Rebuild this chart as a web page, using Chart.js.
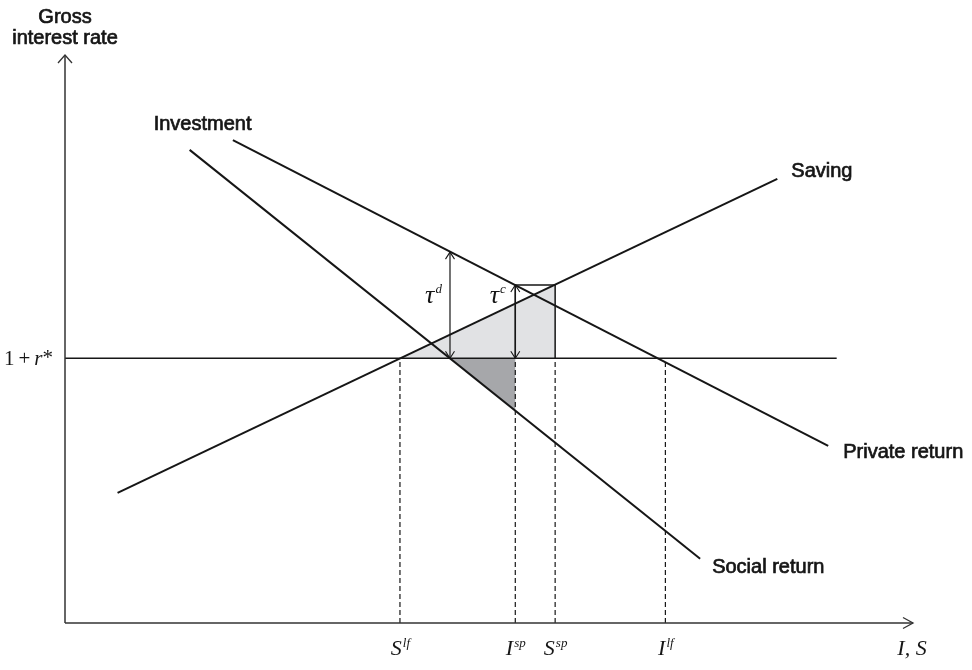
<!DOCTYPE html>
<html>
<head>
<meta charset="utf-8">
<script src="https://cdn.jsdelivr.net/npm/chart.js@4.4.1/dist/chart.umd.min.js"></script>
<style>
  html, body { margin: 0; padding: 0; background: #fff; }
</style>
</head>
<body>
<canvas id="diagram" width="972" height="670"></canvas>
<script>
// values: quantity axis 0-100, rate axis 0-100
const rateStar = 46.6;
const rateLineEnd = 91.0;
const savingLine = [{x: 6.2, y: 22.9}, {x: 84.0, y: 78.2}];
const socialLine = [{x: 14.7, y: 83.3}, {x: 74.9, y: 11.3}];
const privateLine = [{x: 19.8, y: 85.0}, {x: 90.0, y: 31.2}];
const qNames = ['S', 'I', 'S', 'I'];
const qSups = ['lf', 'sp', 'sp', 'lf'];
const qValues = [39.5, 53.1, 57.8, 70.8];
const tauD = {x: 45.4, top: 65.3};
const tauC = {x: 53.1, top: 59.5};
const darkBottom = 37.5;

const INK = '#161616';
const SANS = '20px "Liberation Sans", Arial, sans-serif';
const SERIF = '"Liberation Serif", "Times New Roman", serif';

function seg(points, extra) {
    return Object.assign({
        data: points,
        showLine: true,
        borderColor: INK,
        borderWidth: 2,
        pointRadius: 0,
        fill: false,
        clip: false,
        order: 1
    }, extra || {});
}

const datasets = [
    // shaded areas
    seg([{x: qValues[0], y: rateStar}, {x: qValues[2], y: tauC.top}, {x: qValues[2], y: rateStar}],
        {fill: 'shape', backgroundColor: '#e1e2e4', borderWidth: 0, order: 3}),
    seg([{x: tauD.x, y: rateStar}, {x: qValues[1], y: rateStar}, {x: qValues[1], y: darkBottom}],
        {fill: 'shape', backgroundColor: '#a6a7aa', borderWidth: 0, order: 3}),
    // axes
    seg([{x: 0, y: 0}, {x: 0, y: 100}], {borderColor: '#333', borderWidth: 1.5}),
    seg([{x: 0, y: 0}, {x: 100, y: 0}], {borderColor: '#333', borderWidth: 1.5}),
    // world interest rate
    seg([{x: 0, y: rateStar}, {x: rateLineEnd, y: rateStar}], {borderWidth: 1.5}),
    // box
    seg([{x: qValues[1], y: rateStar}, {x: qValues[1], y: tauC.top},
         {x: qValues[2], y: tauC.top}, {x: qValues[2], y: rateStar}], {borderWidth: 1.5}),
    // curves
    seg(savingLine),
    seg(socialLine),
    seg(privateLine),
    // tax wedges
    seg([{x: tauD.x, y: rateStar}, {x: tauD.x, y: tauD.top}], {borderWidth: 1.2}),
    seg([{x: tauC.x, y: rateStar}, {x: tauC.x, y: tauC.top}], {borderWidth: 1.2})
];

// dashed drop lines
qValues.forEach(v => {
    datasets.push(seg([{x: v, y: 0}, {x: v, y: rateStar}], {borderWidth: 1.2, borderDash: [5, 3], order: 2}));
});

function chevron(ctx, tx, ty, dx, dy, len, half, w) {
    const bx = tx - dx * len, by = ty - dy * len;
    const nx = -dy, ny = dx;
    ctx.beginPath();
    ctx.moveTo(bx + nx * half, by + ny * half);
    ctx.lineTo(tx, ty);
    ctx.lineTo(bx - nx * half, by - ny * half);
    ctx.lineWidth = w;
    ctx.stroke();
}

function supText(ctx, base, sup, cx, baseY, baseFont, supFont, rise) {
    ctx.font = baseFont;
    const wb = ctx.measureText(base).width;
    ctx.font = supFont;
    const ws = ctx.measureText(sup).width;
    const sx = cx - (wb + ws) / 2;
    ctx.textAlign = 'left';
    ctx.textBaseline = 'alphabetic';
    ctx.font = baseFont;
    ctx.fillText(base, sx, baseY);
    ctx.font = supFont;
    ctx.fillText(sup, sx + wb + 1, baseY - rise);
}

// sans labels are a touch heavier in the original
function heavyText(ctx, text, x, y) {
    ctx.fillText(text, x, y);
    ctx.strokeText(text, x, y);
}

const annotate = {
    id: 'annotate',
    afterDatasetsDraw(chart) {
        const {ctx, scales: {x, y}} = chart;
        const px = v => x.getPixelForValue(v);
        const py = v => y.getPixelForValue(v);
        ctx.save();
        ctx.strokeStyle = '#333';
        ctx.fillStyle = INK;

        // axis arrow heads
        chevron(ctx, px(0), py(100), 0, -1, 8, 7, 1.3);
        chevron(ctx, px(100), py(0), 1, 0, 10, 5.5, 1.3);

        // wedge arrow heads
        ctx.strokeStyle = INK;
        [tauD, tauC].forEach(t => {
            chevron(ctx, px(t.x), py(t.top), 0, -1, 7, 4.5, 1.1);
            chevron(ctx, px(t.x), py(rateStar), 0, 1, 7, 4.5, 1.1);
        });

        // curve and axis titles
        ctx.font = SANS;
        ctx.lineWidth = 0.7;
        ctx.textBaseline = 'middle';
        ctx.textAlign = 'center';
        heavyText(ctx, 'Gross', px(0), py(100) - 38);
        heavyText(ctx, 'interest rate', px(0), py(100) - 17);
        ctx.textAlign = 'left';
        heavyText(ctx, 'Investment', px(socialLine[0].x) - 36, py(socialLine[0].y) - 25);
        heavyText(ctx, 'Saving', px(savingLine[1].x) + 14, py(savingLine[1].y) - 7);
        heavyText(ctx, 'Private return', px(privateLine[1].x) + 15, py(privateLine[1].y) + 7);
        heavyText(ctx, 'Social return', px(socialLine[1].x) + 12, py(socialLine[1].y) + 9);

        // quantity labels
        const base = 'italic 22px ' + SERIF;
        const small = 'italic 13px ' + SERIF;
        qValues.forEach((v, i) => {
            supText(ctx, qNames[i], qSups[i], px(v), py(0) + 32, base, small, 8);
        });
        ctx.font = base;
        ctx.textAlign = 'center';
        ctx.fillText('I, S', px(100) - 1, py(0) + 32);

        // tax wedge labels
        const tau = 'italic 26px ' + SERIF;
        const tauSup = 'italic 13px ' + SERIF;
        supText(ctx, '\u03c4', 'd', px(tauD.x) - 17, py(rateStar) - 55, tau, tauSup, 10);
        supText(ctx, '\u03c4', 'c', px(tauC.x) - 18, py(rateStar) - 55, tau, tauSup, 10);

        // 1 + r*
        const up = '21px ' + SERIF;
        const it = 'italic 21px ' + SERIF;
        const parts = [['1', up], ['+', up], ['r', it], ['*', up]];
        const gaps = [4, 4, 0, 0];
        let w = 0;
        parts.forEach((p, i) => { ctx.font = p[1]; w += ctx.measureText(p[0]).width + gaps[i]; });
        let cx = px(0) - 12 - w;
        const by = py(rateStar) + 7;
        ctx.textAlign = 'left';
        ctx.textBaseline = 'alphabetic';
        parts.forEach((p, i) => {
            ctx.font = p[1];
            ctx.fillText(p[0], cx, p[0] === '*' ? by - 1 : by);
            cx += ctx.measureText(p[0]).width + gaps[i];
        });
        ctx.restore();
    }
};

new Chart(document.getElementById('diagram'), {
    type: 'scatter',
    data: {datasets},
    options: {
        responsive: false,
        animation: false,
        devicePixelRatio: 1,
        layout: {padding: {left: 65, right: 59, top: 55, bottom: 47}},
        scales: {
            x: {type: 'linear', min: 0, max: 100, display: false},
            y: {type: 'linear', min: 0, max: 100, display: false}
        },
        plugins: {legend: {display: false}, tooltip: {enabled: false}}
    },
    plugins: [annotate]
});
</script>
</body>
</html>
